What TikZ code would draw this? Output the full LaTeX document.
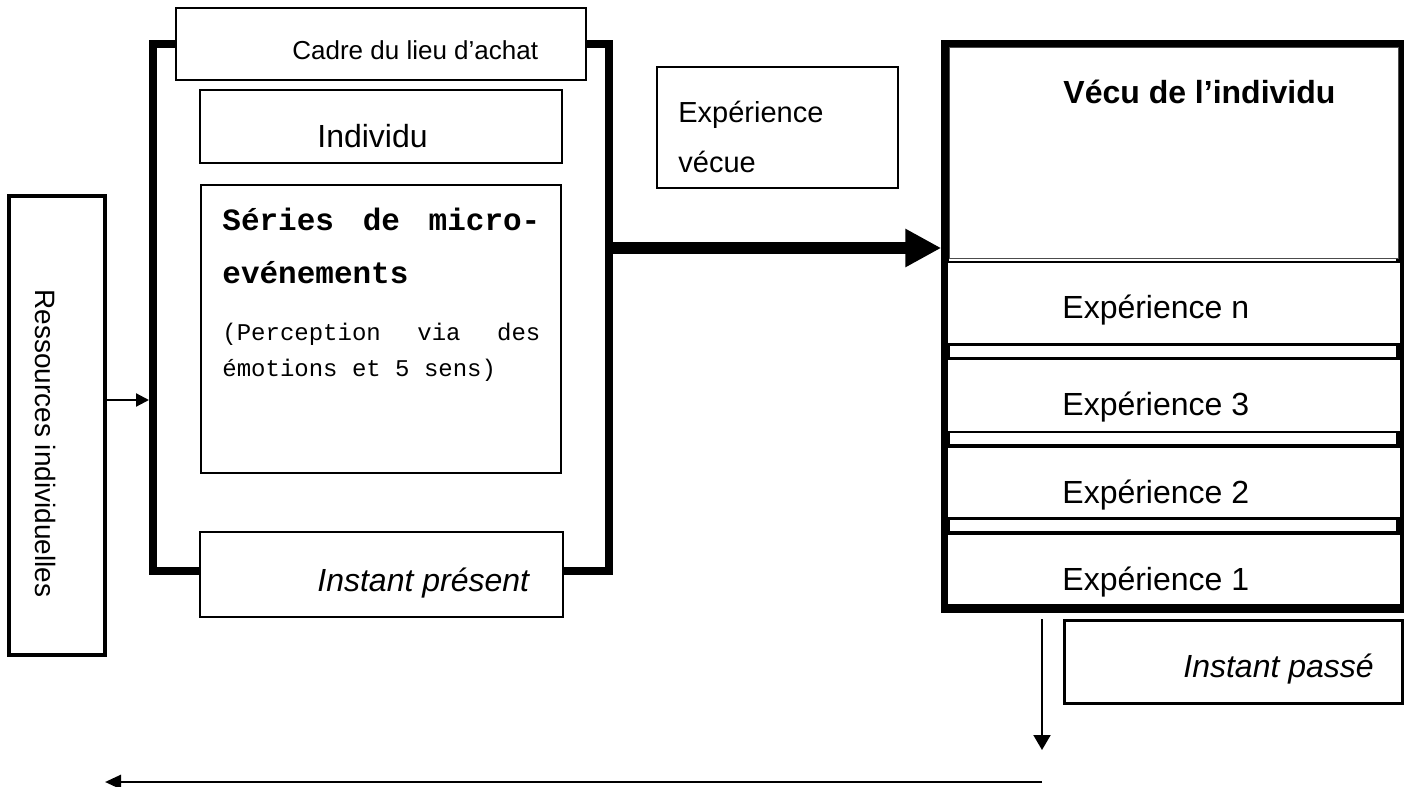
\documentclass[tikz,border=0pt]{standalone}
\usepackage{fontspec}
\setmainfont{Liberation Sans}
\newfontfamily\courier{Liberation Mono}
\usetikzlibrary{arrows.meta}
\newcommand{\fs}[2]{\fontsize{#1}{#2}\selectfont}
\tikzset{
  frame/.style={draw, line width=4pt, inner sep=0pt},
  box/.style={draw, fill=white, line width=0.8pt, inner sep=0pt},
  txt/.style={inner sep=0pt, anchor=base west},
  thinarrow/.style={-{Triangle[length=6.5pt, width=6.5pt]}, line width=1.1pt},
  bigarrow/.style={-{Triangle[length=18pt, width=18pt]}, line width=6pt},
}

\begin{document}
\begin{tikzpicture}[x=0.5pt, y=-0.5pt]
  \useasboundingbox (0,0) rectangle (1404,787);
  % present: lieu d'achat
  \node[frame, minimum width=228pt, minimum height=263.75pt] (cadre) at (381,307.25) {};
  \node[box, line width=0.7pt, minimum width=205pt, minimum height=36pt] (lieu) at (381,44) {};
  \node[txt, font=\fs{13}{15}] (lieutxt) at (292,60) {Cadre du lieu d’achat};
  \node[box, minimum width=181pt, minimum height=36.5pt] (indiv) at (381,126.5) {};
  \node[txt, font=\fs{16}{19}] (indivtxt) at (317,147) {Individu};
  \node[box, line width=1pt, minimum width=180pt, minimum height=144pt] (series) at (381,329) {};
  \node[txt, text width=159pt, align=justify, font=\courier\bfseries\fs{15.5}{26.5}] (serieshead) at (222,230)
    {Séries\hfill de\hfill micro-\\evénements};
  \node[txt, text width=159pt, align=justify, font=\courier\fs{12}{18}] (seriesnote) at (222,340.5)
    {(Perception\hfill via\hfill des\\émotions et 5 sens)};
  \node[box, line width=1.4pt, minimum width=181.5pt, minimum height=42.5pt] (present) at (381.5,574.5) {};
  \node[txt, font=\itshape\fs{16}{19}] (presenttxt) at (317,591) {Instant présent};
  % ressources
  \node[frame, line width=2.2pt, minimum width=48pt, minimum height=229.5pt] (res) at (57,425.5) {};
  \node[inner sep=0pt, rotate=-90, font=\fs{14}{17}] (restxt) at (46,443.5) {Ressources individuelles};
  \draw[thinarrow] (res.east |- 0,400) -- (cadre.west |- 0,400);
  % experience vecue
  \node[box, minimum width=120.5pt, minimum height=60.5pt] (vecue) at (777.5,127.5) {};
  \node[txt, text width=100pt, align=left, font=\fs{14.5}{25}] (vecuetxt) at (678,122) {Expérience\\vécue};
  % vecu de l'individu
  \node[frame, minimum width=227.5pt, minimum height=282.75pt] (vecu) at (1172.75,326.25) {};
  \node[box, draw=black!70, line width=0.5pt, minimum width=224.5pt, minimum height=105.5pt] (vecutitle) at (1173.5,152.5) {};
  \node[txt, font=\bfseries\fs{16}{19}] (vecutxt) at (1063,103) {Vécu de l’individu};
  \foreach \y/\h/\t/\n in {261/82/n/expn, 358/73/3/expc, 446/71/2/expb, 533/71/1/expa} {
    \node[box, anchor=north west, minimum width=227pt, minimum height=\h*0.5pt] (\n) at (946,\y) {};
    \node[txt, font=\fs{16}{19}] (\n txt) at (1062,\y+57) {Expérience \t};
  }
  \foreach \y in {345,432,519}
    \draw[line width=0.6pt, fill=white] (949,\y) rectangle (1397,\y+13);
  \draw[bigarrow] (cadre.east |- 0,248) -- (vecu.west |- 0,248);
  % instant passe
  \node[box, line width=1.5pt, minimum width=168.75pt, minimum height=41.5pt] (passe) at (1233.25,661.5) {};
  \node[txt, font=\itshape\fs{16}{19}] (passetxt) at (1183,677) {Instant passé};
  % time arrows
  \coordinate (dn) at (1042,750);
  \coordinate (tstart) at (1042,782);
  \coordinate (tend) at (105,782);
  \draw[-{Triangle[length=7.5pt, width=8.5pt]}, line width=1pt, shorten <=3pt] (vecu.south -| dn) -- (dn);
  \draw[-{Triangle[length=8pt, width=7pt]}, line width=1.3pt] (tstart) -- (tend);
\end{tikzpicture}
\end{document}
